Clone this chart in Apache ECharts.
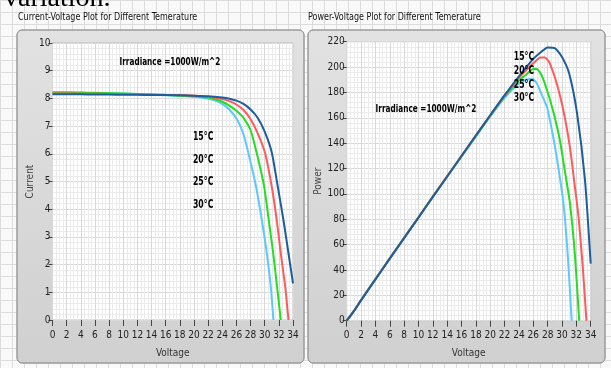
<!DOCTYPE html>
<html>
<head>
<meta charset="utf-8">
<script src="https://cdn.jsdelivr.net/npm/echarts@6/dist/echarts.min.js"></script>
<style>
html, body { margin: 0; padding: 0; }
#chart {
    width: 611px; height: 368px;
    background-color: #f9f9f9;
    background-image: linear-gradient(#dcdcdc 1px, transparent 1px), linear-gradient(90deg, #dcdcdc 1px, transparent 1px);
    background-size: 12px 12px;
}
</style>
</head>
<body>
<div id="chart"></div>
<script>
// temperatures, curve order: 15, 20, 25, 30 °C
const temps = ['15°C', '20°C', '25°C', '30°C'];
const irradianceText = 'Irradiance =1000W/m^2';

// current-voltage curves [V, I]
const iv15 = [[0,8.15],[2,8.15],[4,8.15],[6,8.14],[8,8.14],[10,8.13],[12,8.13],[14,8.12],[16,8.12],[18,8.11],[20,8.1],[22,8.08],[24,8.03],[25,7.99],[26,7.92],[27,7.8],[28,7.6],[29,7.3],[30,6.8],[31,6.05],[31.85,4.81],[32.65,3.61],[33.36,2.41],[34,1.32]];
const iv20 = [[0,8.18],[2,8.18],[4,8.17],[6,8.17],[8,8.16],[10,8.16],[12,8.15],[14,8.14],[16,8.13],[18,8.12],[20,8.1],[22,8.06],[24,7.98],[25,7.9],[26,7.78],[27,7.58],[28,7.25],[29,6.75],[30.06,6.02],[31,4.81],[31.7,3.61],[32.27,2.41],[32.9,1.2],[33.36,0]];
const iv25 = [[0,8.22],[2,8.22],[4,8.21],[6,8.2],[8,8.19],[10,8.18],[12,8.16],[14,8.14],[16,8.12],[18,8.1],[20,8.08],[22,8.03],[23,7.97],[24,7.88],[25,7.74],[26,7.55],[27,7.3],[28,6.85],[28.88,6.02],[29.9,4.85],[30.55,3.65],[31.2,2.41],[31.75,1.2],[32.27,0]];
const iv30 = [[0,8.2],[2,8.2],[4,8.2],[6,8.19],[8,8.19],[10,8.18],[12,8.16],[14,8.13],[16,8.11],[18,8.09],[20,8.06],[22,7.99],[23,7.92],[24,7.8],[25,7.6],[26.14,7.22],[27,6.7],[27.7,6.02],[28.78,4.81],[29.59,3.61],[30.3,2.41],[30.86,1.2],[31.23,0]];

// power-voltage curves [V, P]
const pv15 = [[0,0],[1,7.5],[2,16],[4,32.6],[6,48.9],[8,65.1],[10,81.3],[12,97.6],[14,113.7],[16,129.9],[18,146],[20,162],[22,177.8],[24,192.7],[25,199.8],[26,206.5],[27,211.5],[28,215.5],[29,215],[30,208],[31,195],[32.1,163.5],[33.2,111],[34,45]];
const pv20 = [[0,0],[1,7.6],[2,16.2],[4,32.7],[6,49],[8,65.3],[10,81.5],[12,97.8],[14,114],[16,130],[18,146.2],[20,162],[22,177.3],[24,191.5],[25,197.5],[26,203],[27,207.5],[27.6,207.5],[28.2,204],[29,192],[29.7,178],[30.4,160],[31.1,137],[31.7,110],[32.3,82],[32.9,42],[33.4,0]];
const pv25 = [[0,0],[1,7.6],[2,16.3],[4,32.8],[6,49.2],[8,65.4],[10,81.6],[12,97.8],[14,113.8],[16,129.8],[18,145.6],[20,161.5],[22,176.6],[24,189.5],[25,194],[26,198.5],[26.5,198.5],[27.2,193],[28.2,176.6],[29,160],[29.7,142.5],[30.4,118],[31.1,93],[31.8,52],[32.4,0]];
const pv30 = [[0,0],[1,7.6],[2,16.2],[4,32.7],[6,49.1],[8,65.3],[10,81.4],[12,97.5],[14,113.5],[16,129.4],[18,145.2],[20,161],[22,175.8],[24,187],[25,190],[25.8,190.5],[26.4,188],[27.2,178],[27.95,167.5],[28.6,150],[29.26,129],[30.2,92.6],[30.8,52],[31.35,0]];

// annotation anchors in data units
const ivTempPos = [[21.3,6.6],[21.3,5.78],[21.3,4.98],[21.3,4.15]];
const pvTempPos = [[24.7,208],[24.7,197],[24.7,186],[24.7,175.6]];
const ivIrrPos = [16.6, 9.31];
const pvIrrPos = [11.05, 167];

const colors = ['#1d5d9b', '#ff5a5a', '#22dd22', '#5cc8ff'];
const narrow = '"Liberation Sans Narrow", "DejaVu Sans Condensed", "DejaVu Sans", sans-serif';

let dom = document.getElementById('chart');
let myChart = echarts.init(dom, null, { renderer: 'canvas' });

function xAxisFor(idx) {
    return {
        type: 'value', gridIndex: idx, min: 0, max: 34, interval: 2,
        name: 'Voltage', nameLocation: 'middle', nameGap: 28,
        nameTextStyle: { color: '#333', fontSize: 10, fontFamily: narrow },
        axisLine: { show: false },
        axisTick: { show: true, length: 6, lineStyle: { color: '#444' } },
        axisLabel: { color: '#222', fontSize: 10, fontFamily: narrow, margin: 10 },
        splitLine: { show: true, lineStyle: { color: '#d8d8d8' } },
        minorTick: { show: false, splitNumber: 4 },
        minorSplitLine: { show: true, lineStyle: { color: '#ebebeb' } }
    };
}
function yAxisFor(idx, name, max, interval, gap) {
    return {
        type: 'value', gridIndex: idx, min: 0, max: max, interval: interval,
        name: name, nameLocation: 'middle', nameGap: gap,
        nameTextStyle: { color: '#444', fontSize: 10, fontFamily: narrow },
        axisLine: { show: false },
        axisTick: { show: true, length: 4, lineStyle: { color: '#444' } },
        axisLabel: { color: '#222', fontSize: 10, fontFamily: narrow, margin: 2 },
        splitLine: { show: true, lineStyle: { color: '#d8d8d8' } },
        minorTick: { show: false, splitNumber: 5 },
        minorSplitLine: { show: true, lineStyle: { color: '#ebebeb' } }
    };
}

let ivSets = [iv15, iv20, iv25, iv30];
let pvSets = [pv15, pv20, pv25, pv30];
let series = [];
// draw hottest first so 15°C lies on top
for (let i = 3; i >= 0; i--) {
    series.push({ type: 'line', xAxisIndex: 0, yAxisIndex: 0, data: ivSets[i], showSymbol: false, smooth: 0.2,
        lineStyle: { color: colors[i], width: 2 }, z: 3 });
    series.push({ type: 'line', xAxisIndex: 1, yAxisIndex: 1, data: pvSets[i], showSymbol: false, smooth: 0.2,
        lineStyle: { color: colors[i], width: 2 }, z: 3 });
}

let panelFill = new echarts.graphic.LinearGradient(0, 0, 0, 1, [
    { offset: 0, color: '#e2e2e2' }, { offset: 1, color: '#d0d0d0' }
]);

let graphics = [
    { type: 'text', left: 4, top: -15, z: -20,
      style: { text: 'variation.', font: '28px "Liberation Serif", serif', fill: '#000' } },
    { type: 'rect', shape: { x: 17, y: 30, width: 287, height: 333, r: 5 }, z: -10,
      style: { fill: panelFill, stroke: '#9a9a9a', lineWidth: 1 } },
    { type: 'rect', shape: { x: 308, y: 30, width: 297, height: 333, r: 5 }, z: -10,
      style: { fill: panelFill, stroke: '#9a9a9a', lineWidth: 1 } },
    { type: 'text', x: 18, y: 12, scaleX: 0.89, z: -5,
      style: { text: 'Current-Voltage Plot for Different Temerature', font: '10px ' + narrow, fill: '#111' } },
    { type: 'text', x: 308, y: 12, scaleX: 0.89, z: -5,
      style: { text: 'Power-Voltage Plot for Different Temerature', font: '10px ' + narrow, fill: '#111' } }
];

let option = {
    animation: false,
    graphic: graphics,
    grid: [
        { left: 52.5, top: 43, width: 240.5, height: 277, show: true, backgroundColor: '#ffffff', borderColor: '#b8b8b8', borderWidth: 1, outerBoundsMode: 'none' },
        { left: 346.7, top: 41.7, width: 244, height: 279, show: true, backgroundColor: '#ffffff', borderColor: '#b8b8b8', borderWidth: 1, outerBoundsMode: 'none' }
    ],
    xAxis: [xAxisFor(0), xAxisFor(1)],
    yAxis: [yAxisFor(0, 'Current', 10, 1, 14), yAxisFor(1, 'Power', 220, 20, 18)],
    series: series
};
myChart.setOption(option);

// annotations placed through the axes' own scales
function note(gridIndex, pos, text, size, sx) {
    let p = myChart.convertToPixel({ gridIndex: gridIndex }, pos);
    return { type: 'text', x: p[0], y: p[1], scaleX: sx, z: 10,
        style: { text: text, font: 'bold ' + size + 'px ' + narrow, fill: '#000',
            align: 'center', verticalAlign: 'middle' } };
}
temps.forEach((t, i) => {
    graphics.push(note(0, ivTempPos[i], t, 12, 0.72));
    graphics.push(note(1, pvTempPos[i], t, 12, 0.72));
});
graphics.push(note(0, ivIrrPos, irradianceText, 11, 0.74));
graphics.push(note(1, pvIrrPos, irradianceText, 11, 0.74));
myChart.setOption({ graphic: graphics });
</script>
</body>
</html>
